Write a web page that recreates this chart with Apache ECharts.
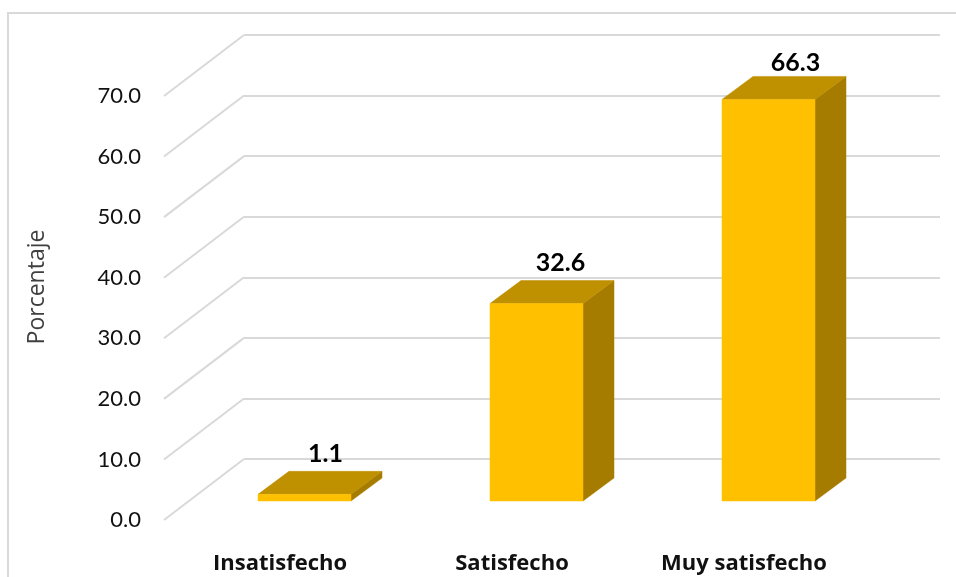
<!DOCTYPE html>
<html>
<head>
<meta charset="utf-8">
<style>html,body{margin:0;padding:0;background:#fff}#c{width:956px;height:577px}</style>
<script src="https://cdn.jsdelivr.net/npm/echarts@6/dist/echarts.min.js"></script>
</head>
<body>
<div id="c"></div>
<script>
const categories = ['Insatisfecho', 'Satisfecho', 'Muy satisfecho'];
const porcentaje = [1.1, 32.6, 66.3];
const yTicks = [0, 10, 20, 30, 40, 50, 60, 70];
const yName = 'Porcentaje';

// Projection of the false 3D (pixels)
const WALL_DX = 80, WALL_DY = -61;
const BAR_DX = 24.5, BAR_DY = -19;
const BAR_HALF = 46.5, SIDE_DX = 31, SIDE_DY = -23;
const LABEL_DX = [21, 24, 27], LABEL_DY = [-40, -41, -36];
const FONT = 'Lato, "Open Sans", sans-serif';
const WIDE_FONT = '"Open Sans", Lato, sans-serif';
const GRID = '#d9d9d9';

const chart = echarts.init(document.getElementById('c'), null, {renderer: 'canvas'});

function diagonal(params, api) {
  const p = api.coord([0, api.value(0)]);
  const x0 = params.coordSys.x;
  return {
    type: 'line',
    shape: {x1: x0, y1: p[1], x2: x0 + WALL_DX, y2: p[1] + WALL_DY},
    style: {stroke: GRID, lineWidth: 2}
  };
}

function bar3d(params, api) {
  const i = api.value(0), v = api.value(1);
  const base = api.coord([i, 0]), top = api.coord([i, v]);
  const xl = base[0] + BAR_DX - BAR_HALF, xr = base[0] + BAR_DX + BAR_HALF;
  const yb = base[1] + BAR_DY, yt = top[1] + BAR_DY;
  const poly = (pts, c) => ({type: 'polygon', shape: {points: pts}, style: {fill: c, stroke: c, lineWidth: 0.5}});
  return {
    type: 'group',
    children: [
      poly([[xr, yb], [xr + SIDE_DX, yb + SIDE_DY], [xr + SIDE_DX, yt + SIDE_DY], [xr, yt]], '#A67C00'),
      poly([[xl, yt], [xr, yt], [xr + SIDE_DX, yt + SIDE_DY], [xl + SIDE_DX, yt + SIDE_DY]], '#BF9000'),
      poly([[xl, yb], [xr, yb], [xr, yt], [xl, yt]], '#FFC000'),
      {
        type: 'text',
        style: {
          x: base[0] + BAR_DX + LABEL_DX[i], y: yt + LABEL_DY[i],
          text: v.toFixed(1), align: 'center', verticalAlign: 'middle',
          font: 'bold 25px ' + FONT, fill: '#000'
        }
      }
    ]
  };
}

chart.setOption({
  animation: false,
  backgroundColor: '#fff',
  graphic: [
    {type: 'polyline', silent: true, shape: {points: [[8, 577], [8, 13], [956, 13]]},
     style: {stroke: GRID, lineWidth: 2, fill: null}}
  ],
  grid: [
    {left: 164, width: 696, top: 96, height: 424},
    {left: 164 + WALL_DX, width: 696, top: 96 + WALL_DY, height: 424}
  ],
  xAxis: [
    {
      gridIndex: 0, type: 'category', data: categories,
      axisLine: {show: false}, axisTick: {show: false},
      axisLabel: {margin: 33, color: '#111', fontFamily: WIDE_FONT, fontWeight: 'bold', fontSize: 22, interval: 0}
    },
    {
      gridIndex: 1, type: 'category', data: categories,
      axisLine: {show: false}, axisTick: {show: false}, axisLabel: {show: false}
    }
  ],
  yAxis: [
    {
      gridIndex: 0, type: 'value', min: 0, max: 70, interval: 10,
      name: yName, nameLocation: 'middle', nameGap: 115, nameRotate: 90,
      nameTextStyle: {fontFamily: WIDE_FONT, fontSize: 23, color: '#404040', padding: [0, 0, 0, 42]},
      axisLine: {show: false}, axisTick: {show: false}, splitLine: {show: false},
      axisLabel: {margin: 23, color: '#111', fontFamily: FONT, fontSize: 22,
        formatter: v => v.toFixed(1)}
    },
    {
      gridIndex: 1, type: 'value', min: 0, max: 70, interval: 10,
      axisLine: {show: false}, axisTick: {show: false}, axisLabel: {show: false},
      splitLine: {show: true, lineStyle: {color: GRID, width: 2}}
    }
  ],
  series: [
    {
      type: 'custom', coordinateSystem: 'cartesian2d', xAxisIndex: 0, yAxisIndex: 0,
      data: yTicks.map(t => [t]), encode: {y: 0}, renderItem: diagonal, silent: true, z: 1
    },
    {
      type: 'custom', coordinateSystem: 'cartesian2d', xAxisIndex: 0, yAxisIndex: 0,
      data: porcentaje.map((v, i) => [i, v]), encode: {x: 0, y: 1}, renderItem: bar3d, z: 3, clip: false
    }
  ]
});
</script>
</body>
</html>
